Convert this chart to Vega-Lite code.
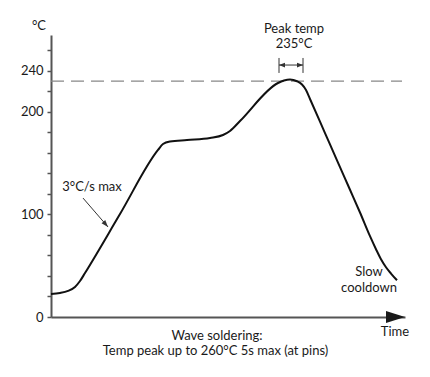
{
  "$schema": "https://vega.github.io/schema/vega-lite/v6.json",
  "width": 354,
  "height": 282,
  "autosize": "none",
  "padding": {"left": 51, "top": 35, "right": 25, "bottom": 60},
  "background": "white",
  "config": {"view": {"stroke": null}, "font": "Lato"},
  "datasets": {
    "profile": [
      {"t": 0, "v": 22.4}, {"t": 9, "v": 23.4}, {"t": 17, "v": 25.4}, {"t": 24, "v": 29.3},
      {"t": 29, "v": 35.1}, {"t": 34, "v": 42.9}, {"t": 69, "v": 100.4}, {"t": 107, "v": 162.9},
      {"t": 112, "v": 168.7}, {"t": 119, "v": 171.1}, {"t": 136, "v": 172.6}, {"t": 159, "v": 174.6},
      {"t": 172, "v": 177.5}, {"t": 179, "v": 181.4}, {"t": 189, "v": 191.1}, {"t": 227, "v": 228.2},
      {"t": 233, "v": 230.6}, {"t": 239, "v": 231.6}, {"t": 246, "v": 229.9}, {"t": 251, "v": 226.7},
      {"t": 255, "v": 221.4}, {"t": 259, "v": 212.6}, {"t": 269, "v": 190.5}, {"t": 279, "v": 168.3},
      {"t": 289, "v": 146.2}, {"t": 299, "v": 124.1}, {"t": 309, "v": 101.9}, {"t": 319, "v": 78.8},
      {"t": 325, "v": 66.1}, {"t": 330, "v": 56.3}, {"t": 335, "v": 48.5}, {"t": 340, "v": 42.4},
      {"t": 346, "v": 35.8}
    ],
    "labels": [
      {"t": -12, "v": 279.9, "label": "°C"},
      {"t": 243, "v": 276.7, "label": "Peak temp"},
      {"t": 243, "v": 262.0, "label": "235°C"},
      {"t": 41, "v": 123.2, "label": "3°C/s max"},
      {"t": 318, "v": 39.8, "label": "Slow"},
      {"t": 318, "v": 24.2, "label": "cooldown"},
      {"t": 344, "v": -18.5, "label": "Time"},
      {"t": 166, "v": -22.4, "label": "Wave soldering:"},
      {"t": 164.5, "v": -37.1, "label": "Temp peak up to 260°C 5s max (at pins)"}
    ]
  },
  "encoding": {
    "x": {
      "field": "t", "type": "quantitative",
      "scale": {"domain": [0, 354], "nice": false, "zero": false},
      "axis": {"domain": true, "domainColor": "#555555", "domainWidth": 2, "ticks": false, "labels": false, "grid": false, "title": null}
    },
    "y": {
      "field": "v", "type": "quantitative",
      "scale": {"domain": [0, 275], "nice": false},
      "axis": {
        "values": [0, 20, 40, 60, 80, 100, 120, 140, 160, 180, 200, 220, 240, 260],
        "labelExpr": "(datum.value == 0 || datum.value == 100 || datum.value == 200 || datum.value == 240) ? datum.label : ''",
        "domainColor": "#555555", "domainWidth": 2,
        "tickColor": "#555555", "tickWidth": 1.5, "tickSize": 4,
        "labelFont": "Lato", "labelFontSize": 13, "labelColor": "#1a1a1a", "labelPadding": 4,
        "grid": false, "title": null
      }
    }
  },
  "layer": [
    {
      "data": {"values": [{"t": 0, "t2": 351, "v": 230}]},
      "mark": {"type": "rule", "color": "#888888", "strokeWidth": 1.2, "strokeDash": [13, 7]},
      "encoding": {"x2": {"field": "t2"}}
    },
    {
      "data": {"name": "profile"},
      "mark": {"type": "line", "interpolate": "monotone", "color": "#111111", "strokeWidth": 2}
    },
    {
      "data": {"values": [{"t": 228, "v": 238, "v2": 252.6}, {"t": 252, "v": 238, "v2": 252.6}]},
      "mark": {"type": "rule", "color": "#333333", "strokeWidth": 1},
      "encoding": {"y2": {"field": "v2"}}
    },
    {
      "data": {"values": [{"t": 228, "t2": 252, "v": 245.7}]},
      "mark": {"type": "rule", "color": "#333333", "strokeWidth": 1},
      "encoding": {"x2": {"field": "t2"}}
    },
    {
      "data": {"values": [{"t": 32, "v": 116, "t2": 57, "v2": 87.8}]},
      "mark": {"type": "rule", "color": "#333333", "strokeWidth": 1},
      "encoding": {"x2": {"field": "t2"}, "y2": {"field": "v2"}}
    },
    {
      "data": {"values": [{"t": 228, "v": 245.7}]},
      "mark": {"type": "point", "shape": "M0,0L-0.4,1L0.4,1Z", "filled": true, "opacity": 1, "color": "#333333", "size": 144, "angle": 270}
    },
    {
      "data": {"values": [{"t": 252, "v": 245.7}]},
      "mark": {"type": "point", "shape": "M0,0L-0.4,1L0.4,1Z", "filled": true, "opacity": 1, "color": "#333333", "size": 144, "angle": 90}
    },
    {
      "data": {"values": [{"t": 57, "v": 87.8}]},
      "mark": {"type": "point", "shape": "M0,0L-0.35,1L0.35,1Z", "filled": true, "opacity": 1, "color": "#333333", "size": 196, "angle": 139}
    },
    {
      "data": {"values": [{"t": 354, "v": 0}]},
      "mark": {"type": "point", "shape": "M0,0L-0.32,1L0.32,1Z", "filled": true, "opacity": 1, "color": "#1a1a1a", "size": 1444, "angle": 90, "clip": false}
    },
    {
      "data": {"name": "labels"},
      "mark": {"type": "text", "font": "Lato", "fontSize": 13, "color": "#1a1a1a", "align": "center", "baseline": "alphabetic"},
      "encoding": {"text": {"field": "label"}}
    }
  ]
}
